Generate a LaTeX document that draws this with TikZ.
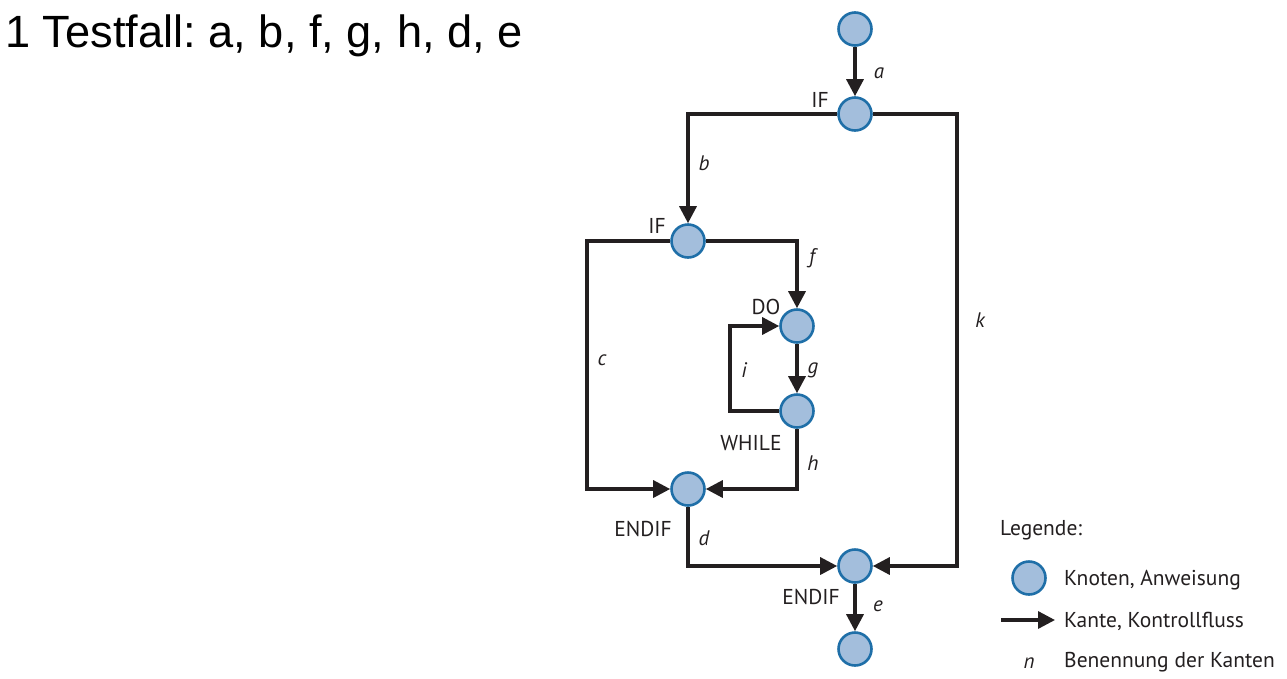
\documentclass[tikz,border=0pt]{standalone}
\usepackage{fontspec}
\setmainfont{PT Sans}
\newfontfamily\titlefont{Liberation Sans}
\usetikzlibrary{arrows.meta}
\frenchspacing
\definecolor{knotf}{HTML}{A3BEDC}
\definecolor{knotb}{HTML}{1F6FA8}
\definecolor{ink}{HTML}{231F20}
\tikzset{
  knot/.style={circle, draw=knotb, fill=knotf, line width=2.6pt, minimum size=33pt, inner sep=0pt},
  edge/.style={draw=ink, line width=3.3pt, -{Triangle[length=17pt,width=17pt]}},
  lbl/.style={text=ink, font=\fontsize{21.5}{23}\selectfont, inner sep=0pt},
  elbl/.style={text=ink, font=\fontsize{21}{23}\selectfont\itshape, inner sep=0pt},
}
\begin{document}
\begin{tikzpicture}[x=1pt,y=-1pt]
\useasboundingbox (0,0) rectangle (1287,678);
\node[anchor=base west, inner sep=0pt, font=\titlefont\fontsize{45.2}{50}\selectfont] (title) at (5,47) {1 Testfall: a, b, f, g, h, d, e};

\node[knot] (top) at (855,29) {};
\node[knot] (if1) at (855,114) {};
\node[knot] (if2) at (688,241) {};
\node[knot] (do) at (797,326) {};
\node[knot] (while) at (797,411) {};
\node[knot] (endif1) at (688,489) {};
\node[knot] (endif2) at (855,566) {};
\node[knot] (bot) at (855,649) {};

\coordinate (kc) at (957,566);
\coordinate (cc) at (587,489);
\coordinate (ic) at (730,411);

\draw[edge] (top) -- (if1);
\draw[edge] (if1) -| (if2);
\draw[edge] (if1) -| (kc) -- (endif2);
\draw[edge] (if2) -| (cc) -- (endif1);
\draw[edge] (if2) -| (do);
\draw[edge] (do) -- (while);
\draw[edge] (while) -- (ic) |- (do);
\draw[edge] (while) |- (endif1);
\draw[edge] (endif1) |- (endif2);
\draw[edge] (endif2) -- (bot);

\node[lbl] (tif1) at (820,100) {IF};
\node[lbl] (tif2) at (657,226) {IF};
\node[lbl] (tdo) at (766,307) {DO};
\node[lbl] (twhile) at (751,443) {WHILE};
\node[lbl] (tendif1) at (643,529) {ENDIF};
\node[lbl] (tendif2) at (811,597) {ENDIF};

\node[elbl] (la) at (879,73) {a};
\node[elbl] (lb) at (704,163) {b};
\node[elbl] (lk) at (980,320) {k};
\node[elbl] (lc) at (602,360) {c};
\node[elbl] (lf) at (812,258) {f};
\node[elbl] (lg) at (813,370) {g};
\node[elbl] (li) at (744,370) {i};
\node[elbl] (lh) at (813,463) {h};
\node[elbl] (ld) at (704,538) {d};
\node[elbl] (le) at (878,606) {e};

% legend
\node[lbl, anchor=west] (leg) at (1000,530) {Legende:};
\node[knot] (legk) at (1029,578) {};
\node[lbl, anchor=west] (legkt) at (1064,580) {Knoten, Anweisung};
\coordinate (la1) at (1001,620);
\coordinate (la2) at (1055,620);
\draw[edge] (la1) -- (la2);
\node[lbl, anchor=west] (legat) at (1064,621) {Kante, Kontrollfluss};
\node[elbl] (legn) at (1029,663) {n};
\node[lbl, anchor=west] (legnt) at (1064,662) {Benennung der Kanten};
\end{tikzpicture}
\end{document}
